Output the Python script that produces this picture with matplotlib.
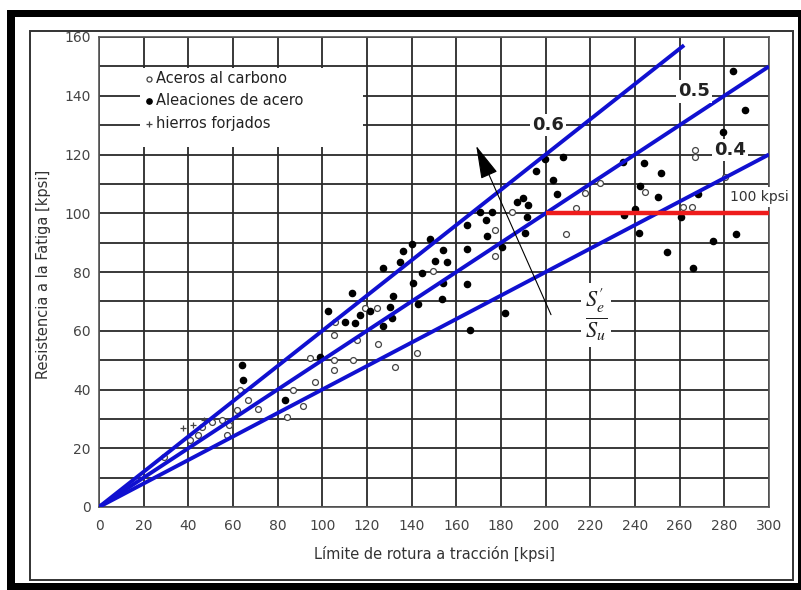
import matplotlib
matplotlib.use("Agg")
import matplotlib.pyplot as plt
from matplotlib.patches import Rectangle
import numpy as np

# ---- data ----
carbon_x = [29, 40.8, 44.5, 46, 50.5, 55, 57.2, 58.4, 61.6, 63, 66.9, 71.3, 84.3, 87, 91.3,
            94.5, 96.7, 105, 105, 105, 105.7, 113.9, 115.4, 119, 124.3, 125, 132.5, 142.3,
            149.7, 177.3, 177.3, 184.8, 209.2, 213.8, 217.6, 224.2, 244.5, 261.7, 265.4,
            266.9, 266.9, 280.3]
carbon_y = [17, 22.8, 24.5, 27.3, 29, 29.6, 24.5, 27.9, 33, 39.8, 36.4, 33.2, 30.7, 40, 34.4,
            50.6, 42.5, 58.5, 50.2, 46.5, 63, 50, 57, 67.9, 67.9, 55.4, 47.5, 52.5,
            80.5, 94.2, 85.4, 100.4, 93, 101.9, 106.8, 110.3, 107.2, 102.1, 102.1,
            121.4, 119.2, 112.4]

alloy_x = [64, 64.6, 83.3, 99, 102.5, 110, 113.2, 114.6, 117, 121.4, 127.3, 130.3, 131.8, 131,
           127.3, 134.8, 136.3, 140, 140.4, 143, 144.5, 148.2, 150.5, 154.2, 155.7, 153.4,
           154.2, 164.9, 164.7, 166.1, 164.9, 170.6, 175.8, 173.3, 173.6, 180.3, 181.8,
           187.3, 189.7, 192.3, 191.5, 190.8, 195.7, 199.7, 207.6, 203.2, 205, 234.5, 235.1,
           240, 242, 242.3, 244, 250.5, 251.5, 254.2, 260.5, 265.8, 268.4, 274.8, 279.6,
           283.7, 285.3, 289.3]
alloy_y = [48.3, 43.4, 36.4, 51.1, 66.6, 63, 72.9, 62.5, 65.3, 66.6, 61.5, 68, 71.8, 64.2,
           81.2, 83.4, 87.1, 89.5, 76.3, 69, 79.5, 91.4, 83.6, 87.4, 83.4, 70.7,
           76.1, 75.9, 88, 60.2, 95.9, 100.4, 100.4, 97.6, 92.2, 88.5, 66.1,
           103.8, 105.3, 102.7, 98.7, 93.3, 114.3, 118.6, 119.2, 111.2, 106.5, 117.4, 99.3,
           101.3, 93.3, 109.2, 117.1, 105.6, 113.7, 86.8, 98.7, 81.5, 106.7, 90.6, 127.7,
           148.4, 92.9, 135]

iron_x = [37.5, 42, 47]
iron_y = [26.8, 28, 29.5]

ratios = [0.6, 0.5, 0.4]
ratio_labels = ["0.6", "0.5", "0.4"]
ratio_xend = [262, 300, 300]
label_pos_x = [201, 266.5, 282.6]
label_pos_y = [130, 141.5, 121.5]

limit_value = 100
limit_x = [200, 300]

legend_labels = ["Aceros al carbono", "Aleaciones de acero", "hierros forjados"]
xticks = list(range(0, 301, 20))
yticks = list(range(0, 161, 20))

# ---- figure ----
W, H = 801, 590
fig = plt.figure(figsize=(W / 100, H / 100), dpi=100)
fig.patch.set_facecolor("white")

def px_rect(x0, y0, x1, y1, **kw):
    r = Rectangle((x0 / W, 1 - y1 / H), (x1 - x0) / W, (y1 - y0) / H,
                  transform=fig.transFigure, **kw)
    fig.add_artist(r)
    return r

px_rect(7, 10, 801, 590, facecolor="black", edgecolor="none", zorder=-10)
px_rect(15, 17, 798, 583, facecolor="white", edgecolor="none", zorder=-9)
px_rect(30, 31, 793, 580, facecolor="white", edgecolor="#333333", linewidth=1.4, zorder=-8)

ax = fig.add_axes([99 / W, 1 - 507 / H, (769 - 99) / W, (507 - 37) / H])
ax.set_facecolor("white")
ax.set_xlim(0, 300)
ax.set_ylim(0, 160)
ax.set_xticks(xticks)
ax.set_yticks(yticks)
ax.set_yticks(list(range(10, 161, 20)), minor=True)
ax.grid(True, which="both", color="#2a2a2a", linewidth=1.3, zorder=0)
ax.set_axisbelow(True)
ax.tick_params(which="both", length=0)
ax.tick_params(axis="x", pad=9, labelsize=10, labelcolor="#444444")
ax.tick_params(axis="y", pad=6, labelsize=10, labelcolor="#444444")
for s in ax.spines.values():
    s.set_color("#555555")
    s.set_linewidth(1.2)

# scatter
h1 = ax.scatter(carbon_x, carbon_y, s=18, facecolors="white", edgecolors="#444444",
                linewidths=0.9, zorder=3, label=legend_labels[0])
h2 = ax.scatter(alloy_x, alloy_y, s=20, color="black", zorder=3, label=legend_labels[1])
h3 = ax.scatter(iron_x, iron_y, s=22, marker="+", color="#444444", linewidths=0.9,
                zorder=3, label=legend_labels[2])

# ratio lines
for r, xe in zip(ratios, ratio_xend):
    xs = np.array([0, xe])
    ax.plot(xs, r * xs, color="#1010d0", linewidth=2.8, zorder=4, solid_capstyle="butt")

for lab, lx, ly in zip(ratio_labels, label_pos_x, label_pos_y):
    ax.text(lx, ly, lab, ha="center", va="center", fontsize=13, fontweight="bold",
            color="#222222", zorder=6,
            bbox=dict(facecolor="white", edgecolor="none", pad=1.5))

# red limit line
ax.plot(limit_x, [limit_value, limit_value], color="#ee1c1c", linewidth=3.2, zorder=5,
        solid_capstyle="butt")
ax.text(295.5, 105.5, f"{limit_value} kpsi", ha="center", va="center", fontsize=10,
        color="#333333", zorder=6, clip_on=False,
        bbox=dict(facecolor="white", edgecolor="none", pad=2))

# arrow
ax.annotate("", xy=(168.4, 123.8), xytext=(202.9, 64.6),
            arrowprops=dict(arrowstyle="-|>,head_length=1.5,head_width=0.4",
                            color="black", lw=0.8, mutation_scale=14),
            zorder=5)

# fraction
ax.text(222.6, 65.3, r"$\frac{S^{\prime}_{e}}{S_{u}}$", ha="center", va="center",
        fontsize=23, color="#222222", zorder=6, math_fontfamily="stix",
        bbox=dict(facecolor="white", edgecolor="none", pad=3))

# legend box
ax.add_patch(Rectangle((0.061, 0.766), 0.333, 0.168, transform=ax.transAxes,
                       facecolor="white", edgecolor="none", zorder=5))
leg = ax.legend(handles=[h1, h2, h3], loc="upper left", bbox_to_anchor=(0.055, 0.94),
                frameon=False, fontsize=10.5, handletextpad=0.0, handlelength=1.0,
                labelspacing=0.5, markerscale=0.85, borderaxespad=0)
leg.set_zorder(7)
for t in leg.get_texts():
    t.set_color("#222222")

ax.set_xlabel("Límite de rotura a tracción [kpsi]", fontsize=10.5, color="#333333")
ax.set_ylabel("Resistencia a la Fatiga [kpsi]", fontsize=10.5, color="#333333")
ax.xaxis.set_label_coords(0.5, -0.082)
ax.yaxis.set_label_coords(-0.072, 0.494)

fig.savefig("out.png", dpi=100)
